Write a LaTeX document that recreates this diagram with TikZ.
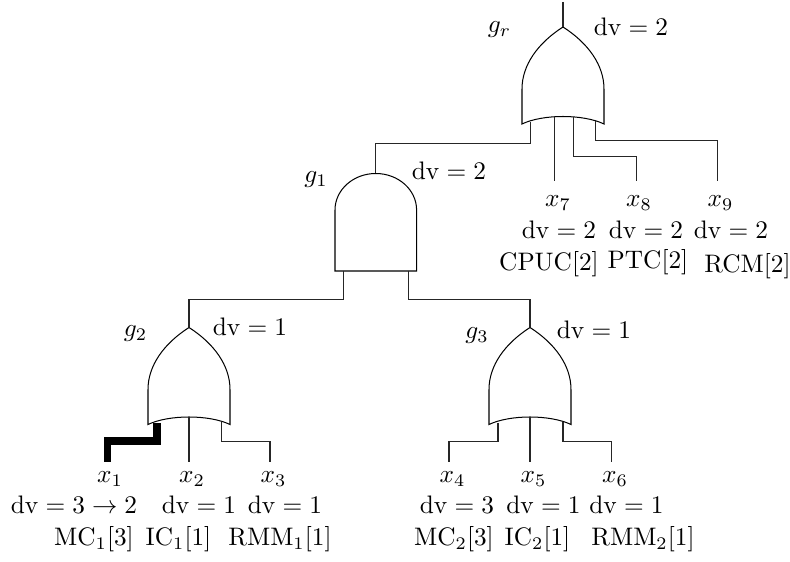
\documentclass[tikz,border=0pt]{standalone}
\usepackage{amsmath}
\tikzset{
  gate/.style={draw=black,line width=0.4pt,fill=white},
  wire/.style={draw=black!85,line width=0.4pt},
  hotwire/.style={draw=black,line width=3pt,line join=miter},
  lbl/.style={anchor=base,inner sep=0pt,outer sep=0pt},
}
% OR gate: #1 name, (#2,#3) apex
\newcommand{\orgate}[3]{%
  \coordinate (#1out) at (#2,#3);
  \draw[gate] (#2,#3) .. controls (#2+25,#3+16) and (#2+41,#3+38) .. (#2+41,#3+62)
    -- (#2+41,#3+97) .. controls (#2+20,#3+87) and (#2-20,#3+87) .. (#2-41,#3+97)
    -- (#2-41,#3+62) .. controls (#2-41,#3+38) and (#2-25,#3+16) .. (#2,#3) -- cycle;
}
\begin{document}
\begin{tikzpicture}[x=0.395pt,y=-0.395pt]
\useasboundingbox (0,0) rectangle (790,562);
% gates
\orgate{gr}{563}{27}
\orgate{gtwo}{189}{327.5}
\orgate{gthree}{530}{327.5}
\coordinate (goneout) at (375.5,173.5);
\draw[gate] (335,271) -- (335,210) arc[start angle=180,end angle=360,x radius=40.8,y radius=36.5] -- (416.6,271) -- cycle;
% free ends
\coordinate (top) at (563,2);
\coordinate (gra) at (530.7,122);
\coordinate (grb) at (554.7,116.5);
\coordinate (grc) at (573.7,117);
\coordinate (grd) at (595.7,121);
\coordinate (goa) at (343.3,271);
\coordinate (gob) at (408.3,271);
\coordinate (gta) at (157,423);
\coordinate (gtb) at (189,417.5);
\coordinate (gtc) at (221.3,422);
\coordinate (gha) at (498,423);
\coordinate (ghb) at (530,417.5);
\coordinate (ghc) at (563,422);
% leaf labels
\node[lbl] (x1) at (110,483) {$x_1$};
\node[lbl] (x2) at (192,483) {$x_2$};
\node[lbl] (x3) at (273.5,483) {$x_3$};
\node[lbl] (x4) at (452.5,483) {$x_4$};
\node[lbl] (x5) at (533.5,483) {$x_5$};
\node[lbl] (x6) at (615,483) {$x_6$};
\node[lbl] (x7) at (558,206.5) {$x_7$};
\node[lbl] (x8) at (639,206.5) {$x_8$};
\node[lbl] (x9) at (720.5,206.5) {$x_9$};
\coordinate (e1) at (107.7,461.7);
\coordinate (e2) at (189,461.7);
\coordinate (e3) at (270,461.7);
\coordinate (e4) at (449,461.7);
\coordinate (e5) at (530,461.7);
\coordinate (e6) at (611.5,461.7);
\coordinate (e7) at (554.7,181);
\coordinate (e8) at (636.3,181);
\coordinate (e9) at (717.3,181);
% wires
\draw[wire] (top) -- (grout);
\draw[wire] (gra) |- (goneout |- 0,143.3) -- (goneout);
\draw[wire] (grb) -- (e7);
\draw[wire] (grc) |- (636.3,156.7) -- (e8);
\draw[wire] (grd) |- (717.3,140.7) -- (e9);
\draw[wire] (goa) |- (189,299.3) -- (gtwoout);
\draw[wire] (gob) |- (530,299.3) -- (gthreeout);
\draw[hotwire] (gta) -- (157,441) -| (e1);
\draw[wire] (gtb) -- (e2);
\draw[wire] (gtc) |- (270,441.7) -- (e3);
\draw[wire] (gha) |- (449,441.3) -- (e4);
\draw[wire] (ghb) -- (e5);
\draw[wire] (ghc) |- (611.5,441.3) -- (e6);
% gate labels
\node[lbl] (lgr) at (499.5,33) {$g_r$};
\node[lbl] (lg1) at (316,183) {$g_1$};
\node[lbl] (lg2) at (135.5,337) {$g_2$};
\node[lbl] (lg3) at (477,338.5) {$g_3$};
\node[lbl] (dgr) at (631,36) {$\mathrm{dv}=2$};
\node[lbl] (dg1) at (449,180) {$\mathrm{dv}=2$};
\node[lbl] (dg2) at (250,336) {$\mathrm{dv}=1$};
\node[lbl] (dg3) at (594,339) {$\mathrm{dv}=1$};
% dv rows
\node[lbl] (d1) at (74,514) {$\mathrm{dv}=3\rightarrow 2$};
\node[lbl] (d2) at (199,514) {$\mathrm{dv}=1$};
\node[lbl] (d3) at (285,514) {$\mathrm{dv}=1$};
\node[lbl] (d4) at (457,514) {$\mathrm{dv}=3$};
\node[lbl] (d5) at (543.5,514) {$\mathrm{dv}=1$};
\node[lbl] (d6) at (626.5,514) {$\mathrm{dv}=1$};
\node[lbl] (d7) at (559,239) {$\mathrm{dv}=2$};
\node[lbl] (d8) at (646,239) {$\mathrm{dv}=2$};
\node[lbl] (d9) at (731,239) {$\mathrm{dv}=2$};
% names
\node[lbl] (n1) at (94,546) {$\mathrm{MC}_1[3]$};
\node[lbl] (n2) at (178.5,546) {$\mathrm{IC}_1[1]$};
\node[lbl] (n3) at (280,546) {$\mathrm{RMM}_1[1]$};
\node[lbl] (n4) at (454,546) {$\mathrm{MC}_2[3]$};
\node[lbl] (n5) at (537.5,546) {$\mathrm{IC}_2[1]$};
\node[lbl] (n6) at (643,546) {$\mathrm{RMM}_2[1]$};
\node[lbl] (n7) at (549,271) {$\mathrm{CPUC}[2]$};
\node[lbl] (n8) at (648,269) {$\mathrm{PTC}[2]$};
\node[lbl] (n9) at (747.5,273) {$\mathrm{RCM}[2]$};
\end{tikzpicture}
\end{document}
